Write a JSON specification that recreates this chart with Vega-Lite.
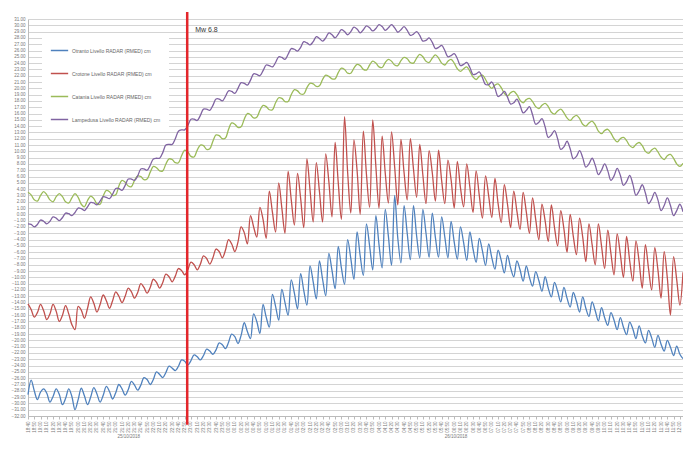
{
"$schema": "https://vega.github.io/schema/vega-lite/v6.json",
"width": 655, "height": 397,
"autosize": {"type": "none"},
"padding": {"left": 28, "top": 19, "right": 0, "bottom": 33},
"background": "white",
"config": {"view": {"stroke": null}, "font": "Liberation Sans"},
"datasets": {
"otranto": [{"t":0,"v":-28.6},{"t":5,"v":-26.3},{"t":10,"v":-28.0},{"t":15,"v":-29.4},{"t":20,"v":-28.2},{"t":25,"v":-27.7},{"t":30,"v":-28.4},{"t":35,"v":-29.8},{"t":40,"v":-28.9},{"t":45,"v":-27.7},{"t":50,"v":-28.6},{"t":55,"v":-30.2},{"t":60,"v":-29.2},{"t":65,"v":-27.7},{"t":70,"v":-28.9},{"t":75,"v":-31.0},{"t":80,"v":-29.4},{"t":85,"v":-27.6},{"t":90,"v":-28.8},{"t":95,"v":-30.2},{"t":100,"v":-29.0},{"t":105,"v":-27.5},{"t":110,"v":-28.5},{"t":115,"v":-29.8},{"t":120,"v":-28.7},{"t":125,"v":-27.3},{"t":130,"v":-28.1},{"t":135,"v":-29.3},{"t":140,"v":-28.3},{"t":145,"v":-27.0},{"t":150,"v":-27.7},{"t":155,"v":-28.7},{"t":160,"v":-27.8},{"t":165,"v":-26.5},{"t":170,"v":-27.1},{"t":175,"v":-27.9},{"t":180,"v":-27.1},{"t":185,"v":-25.9},{"t":190,"v":-26.2},{"t":195,"v":-27.0},{"t":200,"v":-26.2},{"t":205,"v":-25.0},{"t":210,"v":-25.4},{"t":215,"v":-25.9},{"t":220,"v":-25.1},{"t":225,"v":-24.1},{"t":230,"v":-24.4},{"t":235,"v":-24.8},{"t":240,"v":-24.1},{"t":245,"v":-23.1},{"t":250,"v":-23.3},{"t":255,"v":-23.9},{"t":260,"v":-23.2},{"t":265,"v":-22.3},{"t":270,"v":-22.6},{"t":275,"v":-23.1},{"t":280,"v":-22.4},{"t":285,"v":-21.4},{"t":290,"v":-21.7},{"t":295,"v":-22.2},{"t":300,"v":-21.5},{"t":305,"v":-20.4},{"t":310,"v":-20.7},{"t":315,"v":-21.3},{"t":320,"v":-20.3},{"t":325,"v":-19.0},{"t":330,"v":-19.4},{"t":335,"v":-20.5},{"t":340,"v":-19.2},{"t":345,"v":-17.2},{"t":350,"v":-18.6},{"t":355,"v":-19.7},{"t":360,"v":-15.8},{"t":365,"v":-17.0},{"t":370,"v":-18.9},{"t":375,"v":-14.3},{"t":380,"v":-16.3},{"t":385,"v":-17.9},{"t":390,"v":-12.7},{"t":395,"v":-14.6},{"t":400,"v":-16.8},{"t":405,"v":-11.9},{"t":410,"v":-14.0},{"t":415,"v":-16.0},{"t":420,"v":-10.4},{"t":425,"v":-12.5},{"t":430,"v":-15.0},{"t":435,"v":-9.4},{"t":440,"v":-12.1},{"t":445,"v":-14.4},{"t":450,"v":-8.2},{"t":455,"v":-10.7},{"t":460,"v":-13.4},{"t":465,"v":-7.4},{"t":470,"v":-10.3},{"t":475,"v":-12.9},{"t":480,"v":-6.2},{"t":485,"v":-8.9},{"t":490,"v":-11.8},{"t":495,"v":-5.1},{"t":500,"v":-8.5},{"t":505,"v":-11.1},{"t":510,"v":-4.0},{"t":515,"v":-7.0},{"t":520,"v":-10.3},{"t":525,"v":-2.8},{"t":530,"v":-6.6},{"t":535,"v":-9.7},{"t":540,"v":-1.5},{"t":545,"v":-5.0},{"t":550,"v":-8.8},{"t":555,"v":-0.2},{"t":560,"v":-4.8},{"t":565,"v":-8.5},{"t":570,"v":0.8},{"t":575,"v":-3.5},{"t":580,"v":-8.1},{"t":585,"v":3.0},{"t":590,"v":-3.8},{"t":595,"v":-7.7},{"t":600,"v":1.4},{"t":605,"v":-3.0},{"t":610,"v":-7.2},{"t":615,"v":1.4},{"t":620,"v":-3.4},{"t":625,"v":-6.9},{"t":630,"v":0.8},{"t":635,"v":-3.0},{"t":640,"v":-6.8},{"t":645,"v":0.2},{"t":650,"v":-3.7},{"t":655,"v":-6.8},{"t":660,"v":-0.4},{"t":665,"v":-3.6},{"t":670,"v":-6.9},{"t":675,"v":-1.1},{"t":680,"v":-4.4},{"t":685,"v":-7.1},{"t":690,"v":-2.0},{"t":695,"v":-4.5},{"t":700,"v":-7.3},{"t":705,"v":-2.8},{"t":710,"v":-5.5},{"t":715,"v":-7.6},{"t":720,"v":-3.8},{"t":725,"v":-5.8},{"t":730,"v":-8.1},{"t":735,"v":-4.7},{"t":740,"v":-6.9},{"t":745,"v":-8.7},{"t":750,"v":-5.7},{"t":755,"v":-7.3},{"t":760,"v":-9.3},{"t":765,"v":-6.5},{"t":770,"v":-8.5},{"t":775,"v":-9.9},{"t":780,"v":-7.4},{"t":785,"v":-8.8},{"t":790,"v":-10.6},{"t":795,"v":-8.2},{"t":800,"v":-10.0},{"t":805,"v":-11.4},{"t":810,"v":-9.1},{"t":815,"v":-10.5},{"t":820,"v":-12.2},{"t":825,"v":-9.9},{"t":830,"v":-11.7},{"t":835,"v":-13.1},{"t":840,"v":-10.8},{"t":845,"v":-12.2},{"t":850,"v":-13.9},{"t":855,"v":-11.6},{"t":860,"v":-13.3},{"t":865,"v":-14.7},{"t":870,"v":-12.4},{"t":875,"v":-13.8},{"t":880,"v":-15.5},{"t":885,"v":-13.1},{"t":890,"v":-14.9},{"t":895,"v":-16.2},{"t":900,"v":-13.9},{"t":905,"v":-15.3},{"t":910,"v":-16.9},{"t":915,"v":-14.8},{"t":920,"v":-16.4},{"t":925,"v":-17.6},{"t":930,"v":-15.6},{"t":935,"v":-16.8},{"t":940,"v":-18.3},{"t":945,"v":-16.4},{"t":950,"v":-17.9},{"t":955,"v":-19.1},{"t":960,"v":-17.1},{"t":965,"v":-18.2},{"t":970,"v":-19.7},{"t":975,"v":-17.7},{"t":980,"v":-19.3},{"t":985,"v":-20.4},{"t":990,"v":-18.4},{"t":995,"v":-19.6},{"t":1000,"v":-21.1},{"t":1005,"v":-19.2},{"t":1010,"v":-20.6},{"t":1015,"v":-21.7},{"t":1020,"v":-20.0},{"t":1025,"v":-21.1},{"t":1030,"v":-22.4},{"t":1035,"v":-20.9},{"t":1040,"v":-22.2},{"t":1045,"v":-22.9}],
"crotone": [{"t":0,"v":-14.2},{"t":5,"v":-15.1},{"t":10,"v":-16.3},{"t":15,"v":-15.6},{"t":20,"v":-14.3},{"t":25,"v":-15.3},{"t":30,"v":-16.7},{"t":35,"v":-15.8},{"t":40,"v":-14.3},{"t":45,"v":-15.4},{"t":50,"v":-17.0},{"t":55,"v":-16.0},{"t":60,"v":-14.5},{"t":65,"v":-15.8},{"t":70,"v":-17.5},{"t":75,"v":-18.3},{"t":80,"v":-14.6},{"t":85,"v":-15.2},{"t":90,"v":-16.5},{"t":95,"v":-14.9},{"t":100,"v":-13.1},{"t":105,"v":-14.1},{"t":110,"v":-15.5},{"t":115,"v":-14.3},{"t":120,"v":-12.8},{"t":125,"v":-13.7},{"t":130,"v":-14.9},{"t":135,"v":-13.7},{"t":140,"v":-12.3},{"t":145,"v":-13.0},{"t":150,"v":-14.0},{"t":155,"v":-13.0},{"t":160,"v":-11.7},{"t":165,"v":-12.3},{"t":170,"v":-13.3},{"t":175,"v":-12.4},{"t":180,"v":-11.0},{"t":185,"v":-11.6},{"t":190,"v":-12.5},{"t":195,"v":-11.6},{"t":200,"v":-10.3},{"t":205,"v":-10.8},{"t":210,"v":-11.7},{"t":215,"v":-10.8},{"t":220,"v":-9.5},{"t":225,"v":-9.9},{"t":230,"v":-10.7},{"t":235,"v":-9.8},{"t":240,"v":-8.6},{"t":245,"v":-8.9},{"t":250,"v":-9.6},{"t":255,"v":-8.8},{"t":260,"v":-7.6},{"t":265,"v":-8.0},{"t":270,"v":-8.8},{"t":275,"v":-7.9},{"t":280,"v":-6.6},{"t":285,"v":-7.0},{"t":290,"v":-7.9},{"t":295,"v":-6.9},{"t":300,"v":-5.5},{"t":305,"v":-5.9},{"t":310,"v":-6.9},{"t":315,"v":-5.7},{"t":320,"v":-4.0},{"t":325,"v":-4.7},{"t":330,"v":-5.9},{"t":335,"v":-4.4},{"t":340,"v":-2.0},{"t":345,"v":-2.9},{"t":350,"v":-4.7},{"t":355,"v":-0.2},{"t":360,"v":-2.0},{"t":365,"v":-3.6},{"t":370,"v":1.1},{"t":375,"v":-0.8},{"t":380,"v":-3.8},{"t":385,"v":3.7},{"t":390,"v":0.3},{"t":395,"v":-2.8},{"t":400,"v":5.0},{"t":405,"v":1.0},{"t":410,"v":-3.0},{"t":415,"v":6.8},{"t":420,"v":2.3},{"t":425,"v":-1.7},{"t":430,"v":6.5},{"t":435,"v":2.5},{"t":440,"v":-2.1},{"t":445,"v":8.8},{"t":450,"v":3.8},{"t":455,"v":-1.2},{"t":460,"v":8.2},{"t":465,"v":3.6},{"t":470,"v":-1.2},{"t":475,"v":9.6},{"t":480,"v":5.2},{"t":485,"v":-0.4},{"t":490,"v":11.4},{"t":495,"v":5.0},{"t":500,"v":-0.8},{"t":505,"v":15.5},{"t":510,"v":6.6},{"t":515,"v":0.2},{"t":520,"v":11.8},{"t":525,"v":7.0},{"t":530,"v":0.0},{"t":535,"v":13.2},{"t":540,"v":6.3},{"t":545,"v":1.1},{"t":550,"v":15.0},{"t":555,"v":7.6},{"t":560,"v":1.0},{"t":565,"v":12.4},{"t":570,"v":6.5},{"t":575,"v":1.8},{"t":580,"v":13.1},{"t":585,"v":7.5},{"t":590,"v":1.5},{"t":595,"v":11.9},{"t":600,"v":6.6},{"t":605,"v":2.3},{"t":610,"v":12.0},{"t":615,"v":7.2},{"t":620,"v":2.7},{"t":625,"v":11.1},{"t":630,"v":6.2},{"t":635,"v":1.7},{"t":640,"v":10.1},{"t":645,"v":6.6},{"t":650,"v":2.1},{"t":655,"v":10.2},{"t":660,"v":5.3},{"t":665,"v":1.7},{"t":670,"v":8.6},{"t":675,"v":5.5},{"t":680,"v":1.0},{"t":685,"v":8.4},{"t":690,"v":4.2},{"t":695,"v":1.2},{"t":700,"v":8.0},{"t":705,"v":4.3},{"t":710,"v":0.3},{"t":715,"v":6.9},{"t":720,"v":3.0},{"t":725,"v":-0.6},{"t":730,"v":6.1},{"t":735,"v":2.9},{"t":740,"v":-0.5},{"t":745,"v":5.7},{"t":750,"v":1.7},{"t":755,"v":-1.3},{"t":760,"v":4.7},{"t":765,"v":1.6},{"t":770,"v":-2.1},{"t":775,"v":3.7},{"t":780,"v":0.5},{"t":785,"v":-2.4},{"t":790,"v":3.5},{"t":795,"v":0.4},{"t":800,"v":-3.0},{"t":805,"v":2.6},{"t":810,"v":-0.8},{"t":815,"v":-4.0},{"t":820,"v":1.6},{"t":825,"v":-1.0},{"t":830,"v":-4.3},{"t":835,"v":1.5},{"t":840,"v":-2.1},{"t":845,"v":-5.0},{"t":850,"v":0.6},{"t":855,"v":-2.3},{"t":860,"v":-6.0},{"t":865,"v":0.0},{"t":870,"v":-3.5},{"t":875,"v":-6.4},{"t":880,"v":-0.6},{"t":885,"v":-3.6},{"t":890,"v":-7.5},{"t":895,"v":-1.5},{"t":900,"v":-4.8},{"t":905,"v":-8.0},{"t":910,"v":-1.5},{"t":915,"v":-5.0},{"t":920,"v":-8.6},{"t":925,"v":-2.5},{"t":930,"v":-6.2},{"t":935,"v":-9.6},{"t":940,"v":-3.1},{"t":945,"v":-6.3},{"t":950,"v":-10.0},{"t":955,"v":-3.5},{"t":960,"v":-7.4},{"t":965,"v":-10.6},{"t":970,"v":-4.2},{"t":975,"v":-7.5},{"t":980,"v":-11.7},{"t":985,"v":-4.8},{"t":990,"v":-8.6},{"t":995,"v":-12.0},{"t":1000,"v":-5.3},{"t":1005,"v":-8.8},{"t":1010,"v":-13.3},{"t":1015,"v":-5.9},{"t":1020,"v":-10.1},{"t":1025,"v":-16.0},{"t":1030,"v":-6.7},{"t":1035,"v":-10.4},{"t":1040,"v":-14.4},{"t":1045,"v":-9.2}],
"catania": [{"t":0,"v":3.5},{"t":5,"v":3.1},{"t":10,"v":2.3},{"t":15,"v":2.1},{"t":20,"v":3.0},{"t":25,"v":3.6},{"t":30,"v":3.1},{"t":35,"v":2.3},{"t":40,"v":2.0},{"t":45,"v":2.8},{"t":50,"v":3.3},{"t":55,"v":2.8},{"t":60,"v":2.0},{"t":65,"v":1.8},{"t":70,"v":2.6},{"t":75,"v":3.3},{"t":80,"v":2.7},{"t":85,"v":1.6},{"t":90,"v":1.2},{"t":95,"v":2.2},{"t":100,"v":2.9},{"t":105,"v":2.5},{"t":110,"v":1.7},{"t":115,"v":1.6},{"t":120,"v":2.9},{"t":125,"v":3.8},{"t":130,"v":3.6},{"t":135,"v":3.0},{"t":140,"v":3.1},{"t":145,"v":4.5},{"t":150,"v":5.4},{"t":155,"v":5.1},{"t":160,"v":4.5},{"t":165,"v":4.4},{"t":170,"v":5.4},{"t":175,"v":6.1},{"t":180,"v":6.0},{"t":185,"v":5.5},{"t":190,"v":5.6},{"t":195,"v":6.7},{"t":200,"v":7.6},{"t":205,"v":7.4},{"t":210,"v":6.9},{"t":215,"v":6.9},{"t":220,"v":8.0},{"t":225,"v":8.8},{"t":230,"v":8.7},{"t":235,"v":8.2},{"t":240,"v":8.2},{"t":245,"v":9.3},{"t":250,"v":10.2},{"t":255,"v":9.9},{"t":260,"v":9.2},{"t":265,"v":9.1},{"t":270,"v":10.2},{"t":275,"v":11.0},{"t":280,"v":10.9},{"t":285,"v":10.3},{"t":290,"v":10.4},{"t":295,"v":11.6},{"t":300,"v":12.6},{"t":305,"v":12.5},{"t":310,"v":12.0},{"t":315,"v":12.1},{"t":320,"v":13.5},{"t":325,"v":14.5},{"t":330,"v":14.3},{"t":335,"v":13.8},{"t":340,"v":13.9},{"t":345,"v":15.1},{"t":350,"v":16.0},{"t":355,"v":15.8},{"t":360,"v":15.3},{"t":365,"v":15.4},{"t":370,"v":16.5},{"t":375,"v":17.3},{"t":380,"v":17.1},{"t":385,"v":16.6},{"t":390,"v":16.6},{"t":395,"v":17.7},{"t":400,"v":18.5},{"t":405,"v":18.4},{"t":410,"v":17.9},{"t":415,"v":17.9},{"t":420,"v":19.0},{"t":425,"v":19.8},{"t":430,"v":19.6},{"t":435,"v":19.1},{"t":440,"v":19.1},{"t":445,"v":20.1},{"t":450,"v":20.8},{"t":455,"v":20.7},{"t":460,"v":20.3},{"t":465,"v":20.4},{"t":470,"v":21.4},{"t":475,"v":22.1},{"t":480,"v":21.9},{"t":485,"v":21.5},{"t":490,"v":21.5},{"t":495,"v":22.5},{"t":500,"v":23.2},{"t":505,"v":23.0},{"t":510,"v":22.4},{"t":515,"v":22.4},{"t":520,"v":23.2},{"t":525,"v":23.8},{"t":530,"v":23.6},{"t":535,"v":23.0},{"t":540,"v":22.9},{"t":545,"v":23.7},{"t":550,"v":24.3},{"t":555,"v":24.0},{"t":560,"v":23.4},{"t":565,"v":23.3},{"t":570,"v":24.1},{"t":575,"v":24.6},{"t":580,"v":24.3},{"t":585,"v":23.7},{"t":590,"v":23.6},{"t":595,"v":24.4},{"t":600,"v":24.9},{"t":605,"v":24.7},{"t":610,"v":24.1},{"t":615,"v":24.0},{"t":620,"v":24.8},{"t":625,"v":25.4},{"t":630,"v":25.0},{"t":635,"v":24.3},{"t":640,"v":24.1},{"t":645,"v":24.8},{"t":650,"v":25.3},{"t":655,"v":24.8},{"t":660,"v":24.0},{"t":665,"v":23.7},{"t":670,"v":24.3},{"t":675,"v":24.6},{"t":680,"v":24.0},{"t":685,"v":23.1},{"t":690,"v":22.7},{"t":695,"v":23.1},{"t":700,"v":23.4},{"t":705,"v":22.7},{"t":710,"v":21.8},{"t":715,"v":21.4},{"t":720,"v":21.9},{"t":725,"v":22.1},{"t":730,"v":21.4},{"t":735,"v":20.5},{"t":740,"v":20.0},{"t":745,"v":20.5},{"t":750,"v":20.7},{"t":755,"v":20.1},{"t":760,"v":19.2},{"t":765,"v":18.8},{"t":770,"v":19.3},{"t":775,"v":19.5},{"t":780,"v":19.0},{"t":785,"v":18.1},{"t":790,"v":17.7},{"t":795,"v":18.2},{"t":800,"v":18.4},{"t":805,"v":17.9},{"t":810,"v":17.1},{"t":815,"v":16.8},{"t":820,"v":17.3},{"t":825,"v":17.6},{"t":830,"v":17.1},{"t":835,"v":16.2},{"t":840,"v":15.9},{"t":845,"v":16.4},{"t":850,"v":16.7},{"t":855,"v":16.1},{"t":860,"v":15.3},{"t":865,"v":14.9},{"t":870,"v":15.4},{"t":875,"v":15.7},{"t":880,"v":15.2},{"t":885,"v":14.3},{"t":890,"v":14.0},{"t":895,"v":14.5},{"t":900,"v":14.8},{"t":905,"v":14.2},{"t":910,"v":13.2},{"t":915,"v":12.8},{"t":920,"v":13.3},{"t":925,"v":13.5},{"t":930,"v":12.9},{"t":935,"v":12.0},{"t":940,"v":11.5},{"t":945,"v":12.0},{"t":950,"v":12.2},{"t":955,"v":11.7},{"t":960,"v":10.9},{"t":965,"v":10.6},{"t":970,"v":11.1},{"t":975,"v":11.4},{"t":980,"v":10.9},{"t":985,"v":10.0},{"t":990,"v":9.7},{"t":995,"v":10.2},{"t":1000,"v":10.5},{"t":1005,"v":9.9},{"t":1010,"v":9.1},{"t":1015,"v":8.7},{"t":1020,"v":9.3},{"t":1025,"v":9.5},{"t":1030,"v":8.9},{"t":1035,"v":8.0},{"t":1040,"v":7.6},{"t":1045,"v":8.1}],
"lampedusa": [{"t":0,"v":-1.5},{"t":5,"v":-1.6},{"t":10,"v":-2.0},{"t":15,"v":-1.6},{"t":20,"v":-0.9},{"t":25,"v":-1.1},{"t":30,"v":-1.5},{"t":35,"v":-1.1},{"t":40,"v":-0.4},{"t":45,"v":-0.6},{"t":50,"v":-1.0},{"t":55,"v":-0.5},{"t":60,"v":0.2},{"t":65,"v":0.1},{"t":70,"v":-0.2},{"t":75,"v":0.3},{"t":80,"v":1.0},{"t":85,"v":0.9},{"t":90,"v":0.6},{"t":95,"v":1.2},{"t":100,"v":1.9},{"t":105,"v":1.8},{"t":110,"v":1.5},{"t":115,"v":2.1},{"t":120,"v":2.8},{"t":125,"v":2.7},{"t":130,"v":2.5},{"t":135,"v":3.2},{"t":140,"v":4.1},{"t":145,"v":4.1},{"t":150,"v":3.8},{"t":155,"v":4.6},{"t":160,"v":5.6},{"t":165,"v":5.6},{"t":170,"v":5.4},{"t":175,"v":6.1},{"t":180,"v":7.2},{"t":185,"v":7.2},{"t":190,"v":7.0},{"t":195,"v":7.8},{"t":200,"v":8.8},{"t":205,"v":8.9},{"t":210,"v":8.9},{"t":215,"v":9.8},{"t":220,"v":11.0},{"t":225,"v":11.1},{"t":230,"v":11.1},{"t":235,"v":12.0},{"t":240,"v":13.2},{"t":245,"v":13.4},{"t":250,"v":13.4},{"t":255,"v":14.1},{"t":260,"v":15.1},{"t":265,"v":15.1},{"t":270,"v":14.9},{"t":275,"v":15.7},{"t":280,"v":16.7},{"t":285,"v":16.7},{"t":290,"v":16.5},{"t":295,"v":17.3},{"t":300,"v":18.3},{"t":305,"v":18.3},{"t":310,"v":18.0},{"t":315,"v":18.7},{"t":320,"v":19.6},{"t":325,"v":19.5},{"t":330,"v":19.2},{"t":335,"v":20.0},{"t":340,"v":20.9},{"t":345,"v":20.8},{"t":350,"v":20.5},{"t":355,"v":21.3},{"t":360,"v":22.3},{"t":365,"v":22.2},{"t":370,"v":22.0},{"t":375,"v":22.8},{"t":380,"v":23.7},{"t":385,"v":23.6},{"t":390,"v":23.4},{"t":395,"v":24.1},{"t":400,"v":25.0},{"t":405,"v":24.9},{"t":410,"v":24.6},{"t":415,"v":25.4},{"t":420,"v":26.3},{"t":425,"v":26.2},{"t":430,"v":25.9},{"t":435,"v":26.5},{"t":440,"v":27.4},{"t":445,"v":27.2},{"t":450,"v":26.9},{"t":455,"v":27.4},{"t":460,"v":28.2},{"t":465,"v":27.9},{"t":470,"v":27.5},{"t":475,"v":28.0},{"t":480,"v":28.8},{"t":485,"v":28.5},{"t":490,"v":28.0},{"t":495,"v":28.6},{"t":500,"v":29.3},{"t":505,"v":29.0},{"t":510,"v":28.5},{"t":515,"v":29.0},{"t":520,"v":29.7},{"t":525,"v":29.4},{"t":530,"v":28.8},{"t":535,"v":29.3},{"t":540,"v":29.9},{"t":545,"v":29.6},{"t":550,"v":29.1},{"t":555,"v":29.5},{"t":560,"v":30.1},{"t":565,"v":29.8},{"t":570,"v":29.2},{"t":575,"v":29.6},{"t":580,"v":30.1},{"t":585,"v":29.6},{"t":590,"v":28.9},{"t":595,"v":29.3},{"t":600,"v":29.8},{"t":605,"v":29.2},{"t":610,"v":28.4},{"t":615,"v":28.6},{"t":620,"v":29.0},{"t":625,"v":28.4},{"t":630,"v":27.5},{"t":635,"v":27.6},{"t":640,"v":28.0},{"t":645,"v":27.3},{"t":650,"v":26.3},{"t":655,"v":26.5},{"t":660,"v":26.8},{"t":665,"v":26.0},{"t":670,"v":25.0},{"t":675,"v":25.2},{"t":680,"v":25.5},{"t":685,"v":24.7},{"t":690,"v":23.6},{"t":695,"v":23.8},{"t":700,"v":24.1},{"t":705,"v":23.3},{"t":710,"v":22.2},{"t":715,"v":22.3},{"t":720,"v":22.6},{"t":725,"v":21.7},{"t":730,"v":20.6},{"t":735,"v":20.6},{"t":740,"v":21.0},{"t":745,"v":20.0},{"t":750,"v":18.7},{"t":755,"v":19.0},{"t":760,"v":19.5},{"t":765,"v":18.6},{"t":770,"v":17.5},{"t":775,"v":17.7},{"t":780,"v":18.3},{"t":785,"v":17.3},{"t":790,"v":16.1},{"t":795,"v":16.5},{"t":800,"v":17.1},{"t":805,"v":15.8},{"t":810,"v":14.3},{"t":815,"v":14.6},{"t":820,"v":15.2},{"t":825,"v":13.9},{"t":830,"v":12.2},{"t":835,"v":12.6},{"t":840,"v":13.3},{"t":845,"v":12.0},{"t":850,"v":10.3},{"t":855,"v":10.7},{"t":860,"v":11.6},{"t":865,"v":10.4},{"t":870,"v":8.8},{"t":875,"v":9.2},{"t":880,"v":10.1},{"t":885,"v":9.0},{"t":890,"v":7.5},{"t":895,"v":8.0},{"t":900,"v":8.9},{"t":905,"v":7.8},{"t":910,"v":6.3},{"t":915,"v":7.0},{"t":920,"v":8.0},{"t":925,"v":6.9},{"t":930,"v":5.4},{"t":935,"v":6.1},{"t":940,"v":7.3},{"t":945,"v":6.2},{"t":950,"v":4.6},{"t":955,"v":5.2},{"t":960,"v":6.2},{"t":965,"v":4.8},{"t":970,"v":3.0},{"t":975,"v":3.7},{"t":980,"v":4.7},{"t":985,"v":3.4},{"t":990,"v":1.7},{"t":995,"v":2.4},{"t":1000,"v":3.5},{"t":1005,"v":2.3},{"t":1010,"v":0.6},{"t":1015,"v":1.4},{"t":1020,"v":2.6},{"t":1025,"v":1.4},{"t":1030,"v":-0.2},{"t":1035,"v":0.6},{"t":1040,"v":1.6},{"t":1045,"v":0.4}],
"event": [{"t":254,"label":"Mw 6.8"}]
},
"layer": [
{"data": {"name": "otranto"}, "mark": {"type": "line", "strokeWidth": 1.3, "interpolate": "catmull-rom"},
 "encoding": {
  "x": {"field": "t", "type": "quantitative", "scale": {"domain": [0, 1045], "nice": false, "zero": false},
   "axis": {"title": null, "tickCount": 105, "labelAngle": -90, "labelFontSize": 4.5, "labelColor": "#777", "labelPadding": 2, "tickSize": 3, "tickColor": "#bbb", "domainColor": "#bbb", "grid": false, "labelOverlap": false, "labelFlush": false,
    "labelExpr": "timeFormat(datetime(2018, 9, 25, 18, 40 + datum.value), '%H:%M')"}},
  "y": {"field": "v", "type": "quantitative", "scale": {"domain": [-32, 31], "nice": false, "zero": false},
   "axis": {"title": null, "tickCount": 63, "format": ".2f", "labelFontSize": 4.5, "labelColor": "#777", "labelPadding": 3, "ticks": false, "domainColor": "#bbb", "gridColor": "#d4d4d4", "gridWidth": 1, "labelOverlap": false, "labelFlush": false}},
  "color": {"datum": "Otranto Livello RADAR (RMED) cm", "type": "nominal",
   "scale": {"domain": ["Otranto Livello RADAR (RMED) cm", "Crotone Livello RADAR (RMED) cm", "Catania Livello RADAR (RMED) cm", "Lampedusa Livello RADAR (RMED) cm"], "range": ["#4f81bd", "#c0504d", "#9bbb59", "#8064a2"]},
   "legend": {"title": null, "orient": "top-left", "offset": 14, "symbolType": "stroke", "symbolSize": 300, "symbolStrokeWidth": 1.5, "labelFontSize": 5, "labelColor": "#666", "rowPadding": 10, "fillColor": "white", "padding": 8, "labelOffset": 3}}
 }},
{"data": {"name": "crotone"}, "mark": {"type": "line", "strokeWidth": 1.3, "interpolate": "catmull-rom"},
 "encoding": {"x": {"field": "t", "type": "quantitative", "axis": null}, "y": {"field": "v", "type": "quantitative"}, "color": {"datum": "Crotone Livello RADAR (RMED) cm", "type": "nominal"}}},
{"data": {"name": "catania"}, "mark": {"type": "line", "strokeWidth": 1.3, "interpolate": "catmull-rom"},
 "encoding": {"x": {"field": "t", "type": "quantitative", "axis": null}, "y": {"field": "v", "type": "quantitative"}, "color": {"datum": "Catania Livello RADAR (RMED) cm", "type": "nominal"}}},
{"data": {"name": "lampedusa"}, "mark": {"type": "line", "strokeWidth": 1.3, "interpolate": "catmull-rom"},
 "encoding": {"x": {"field": "t", "type": "quantitative", "axis": null}, "y": {"field": "v", "type": "quantitative"}, "color": {"datum": "Lampedusa Livello RADAR (RMED) cm", "type": "nominal"}}},
{"data": {"name": "event"}, "mark": {"type": "rule", "color": "#e3262b", "strokeWidth": 2.5},
 "encoding": {"x": {"field": "t", "type": "quantitative",
   "axis": {"orient": "bottom", "title": null, "values": [160, 682], "labelExpr": "datum.value < 400 ? '25/10/2018' : '26/10/2018'", "labelFontSize": 4.5, "labelColor": "#777", "domain": false, "ticks": false, "grid": false, "labelAngle": 0, "offset": 15}},
  "y": {"datum": 32.1, "type": "quantitative"}, "y2": {"datum": -33.4}}},
{"data": {"name": "event"}, "mark": {"type": "text", "align": "left", "baseline": "middle", "dx": 8, "fontSize": 7, "color": "#333"},
 "encoding": {"x": {"field": "t", "type": "quantitative", "axis": null}, "y": {"datum": 29.3, "type": "quantitative"}, "text": {"field": "label"}}}
],
"resolve": {"axis": {"x": "independent"}}
}
